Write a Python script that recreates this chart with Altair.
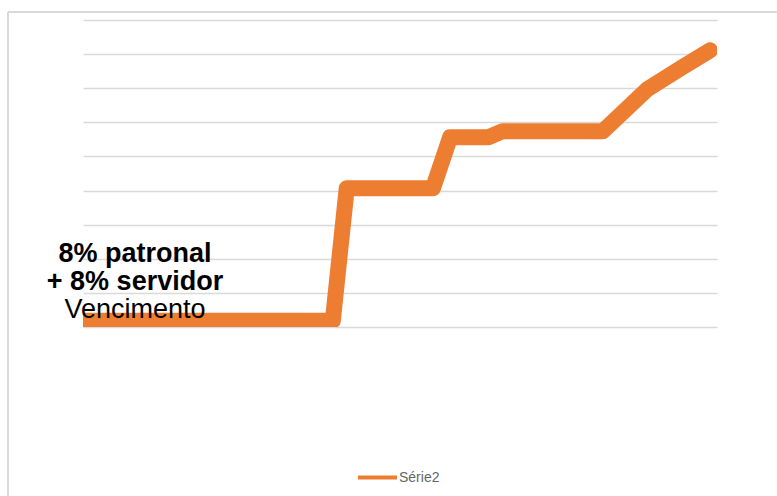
import altair as alt
import pandas as pd

# Data (x as % of category span, y in gridline units)
x_pos = [0, 39.4, 41.6, 55.2, 57.9, 63.9, 66.2, 82.0, 89.0, 94.2, 98.9]
values = [0.18, 0.18, 4.07, 4.07, 5.56, 5.56, 5.74, 5.74, 6.97, 7.58, 8.11]
series = ["Série2"] * len(values)
note_lines = ["8% patronal", "+ 8% servidor", "Vencimento"]
grid_values = list(range(10))

df = pd.DataFrame({"x": x_pos, "v": values, "s": series})
one = pd.DataFrame({"a": [0]})

W, H = 634, 307
GRID = "#d9d9d9"
ORANGE = "#ED7D31"

line = alt.Chart(df).mark_line(
    strokeWidth=16, strokeCap="round", strokeJoin="round", clip=True
).encode(
    x=alt.X("x:Q", scale=alt.Scale(domain=[0, 100], nice=False, zero=False), axis=None),
    y=alt.Y(
        "v:Q",
        scale=alt.Scale(domain=[0, 9], nice=False),
        axis=alt.Axis(values=grid_values, grid=True, gridColor=GRID, gridWidth=1.5,
                      labels=False, ticks=False, domain=False, title=None),
    ),
    color=alt.Color(
        "s:N",
        scale=alt.Scale(range=[ORANGE]),
        legend=alt.Legend(
            title=None, orient="none", legendX=273, legendY=436,
            symbolType="stroke", symbolSize=1521, symbolStrokeWidth=4,
            labelFont="Liberation Sans", labelFontSize=14, labelColor="#666666",
            labelOffset=0, padding=0,
        ),
    ),
)

border_top = alt.Chart(one).mark_rule(color=GRID, strokeWidth=2).encode(
    x=alt.value(-75), x2=alt.value(720), y=alt.value(-8)
)
border_left = alt.Chart(one).mark_rule(color=GRID, strokeWidth=2).encode(
    x=alt.value(-75), y=alt.value(-8), y2=alt.value(500)
)

def note(i, weight, ypix):
    return alt.Chart(pd.DataFrame({"t": [note_lines[i]]})).mark_text(
        font="Liberation Sans", fontSize=27, fontWeight=weight,
        align="center", baseline="alphabetic", color="#000000"
    ).encode(text="t:N", x=alt.value(52), y=alt.value(ypix))

chart = alt.layer(
    border_top, border_left, line,
    note(0, "bold", 242), note(1, "bold", 270), note(2, "normal", 298),
).properties(
    width=W, height=H,
    padding={"left": 83, "top": 20, "right": 60, "bottom": 169},
    autosize="none",
    background="white",
).configure_view(stroke=None)

chart.save("out.html", embed_options={"renderer": "svg", "actions": False})
